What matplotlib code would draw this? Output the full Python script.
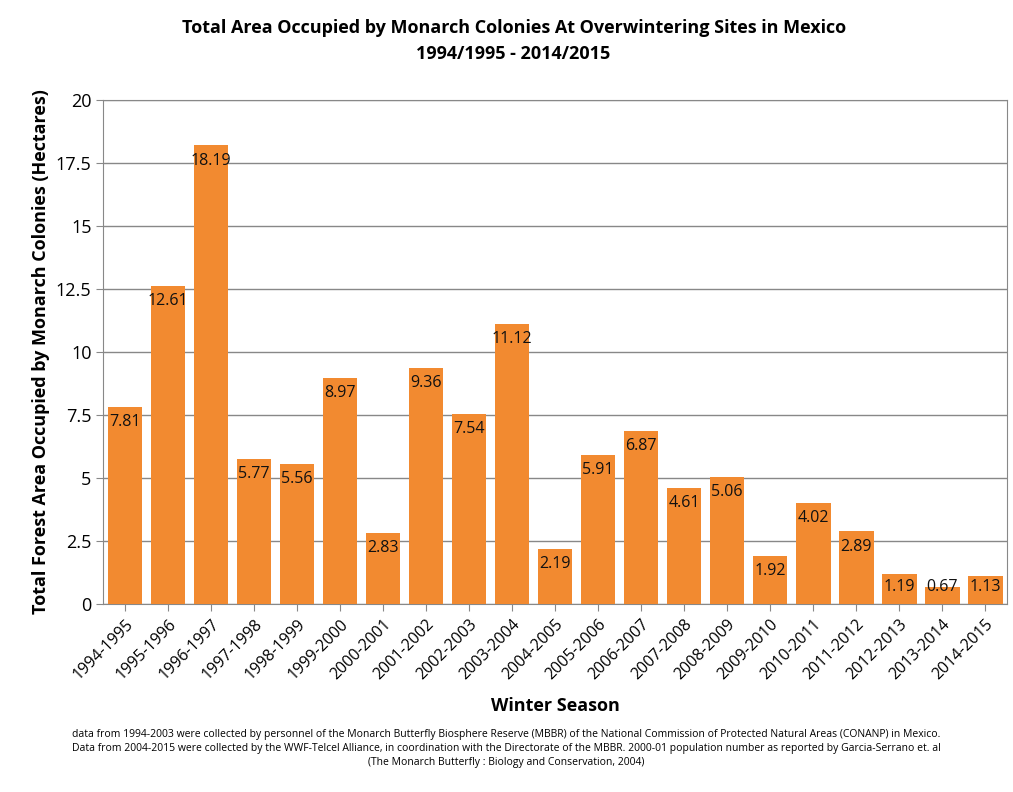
import matplotlib.pyplot as plt
import numpy as np

seasons = ['1994-1995', '1995-1996', '1996-1997', '1997-1998', '1998-1999', '1999-2000',
           '2000-2001', '2001-2002', '2002-2003', '2003-2004', '2004-2005', '2005-2006',
           '2006-2007', '2007-2008', '2008-2009', '2009-2010', '2010-2011', '2011-2012',
           '2012-2013', '2013-2014', '2014-2015']
hectares = [7.81, 12.61, 18.19, 5.77, 5.56, 8.97, 2.83, 9.36, 7.54, 11.12, 2.19, 5.91,
            6.87, 4.61, 5.06, 1.92, 4.02, 2.89, 1.19, 0.67, 1.13]
yticks = [0, 2.5, 5, 7.5, 10, 12.5, 15, 17.5, 20]
ytick_labels = ['0', '2.5', '5', '7.5', '10', '12.5', '15', '17.5', '20']

plt.rcParams['font.family'] = 'Open Sans'
fig = plt.figure(figsize=(10.13, 7.92), dpi=100)
ax = fig.add_axes([0.102, 0.237, 0.892, 0.637])

index = np.arange(len(seasons))
ax.bar(index, hectares, width=0.8, color='#f28a30', zorder=3)
for i, v in enumerate(hectares):
    ax.text(i, max(v - 0.6, 0.7), '{:.2f}'.format(v), ha='center', va='center',
            fontsize=11.5, color='#111111', zorder=4)

ax.set_xlim(-0.5, len(seasons) - 0.5)
ax.set_ylim(0, 20)
ax.set_yticks(yticks)
ax.set_yticklabels(ytick_labels, fontsize=13)
ax.set_xticks(index)
ax.set_xticklabels(seasons, rotation=45, ha='right', rotation_mode='anchor', fontsize=11.5)
ax.tick_params(axis='y', length=5, color='#888888')
ax.tick_params(axis='x', length=5, color='#888888')
ax.grid(axis='y', color='#888888', linewidth=1, zorder=0)
for s in ax.spines.values():
    s.set_color('#888888')

ax.set_xlabel('Winter Season', fontsize=13, fontweight='bold', labelpad=10)
ax.set_ylabel('Total Forest Area Occupied by Monarch Colonies (Hectares)', fontsize=13,
              fontweight='bold')

fig.text(0.507, 0.948, 'Total Area Occupied by Monarch Colonies At Overwintering Sites in Mexico\n1994/1995 - 2014/2015',
         ha='center', va='center', fontsize=13, fontweight='bold', linespacing=1.6)
fig.text(0.5, 0.055,
         'data from 1994-2003 were collected by personnel of the Monarch Butterfly Biosphere Reserve (MBBR) of the National Commission of Protected Natural Areas (CONANP) in Mexico.\n'
         'Data from 2004-2015 were collected by the WWF-Telcel Alliance, in coordination with the Directorate of the MBBR. 2000-01 population number as reported by Garcia-Serrano et. al\n'
         '(The Monarch Butterfly : Biology and Conservation, 2004)',
         ha='center', va='center', fontsize=7.5, linespacing=1.4)

fig.savefig('out.png', dpi=100)
